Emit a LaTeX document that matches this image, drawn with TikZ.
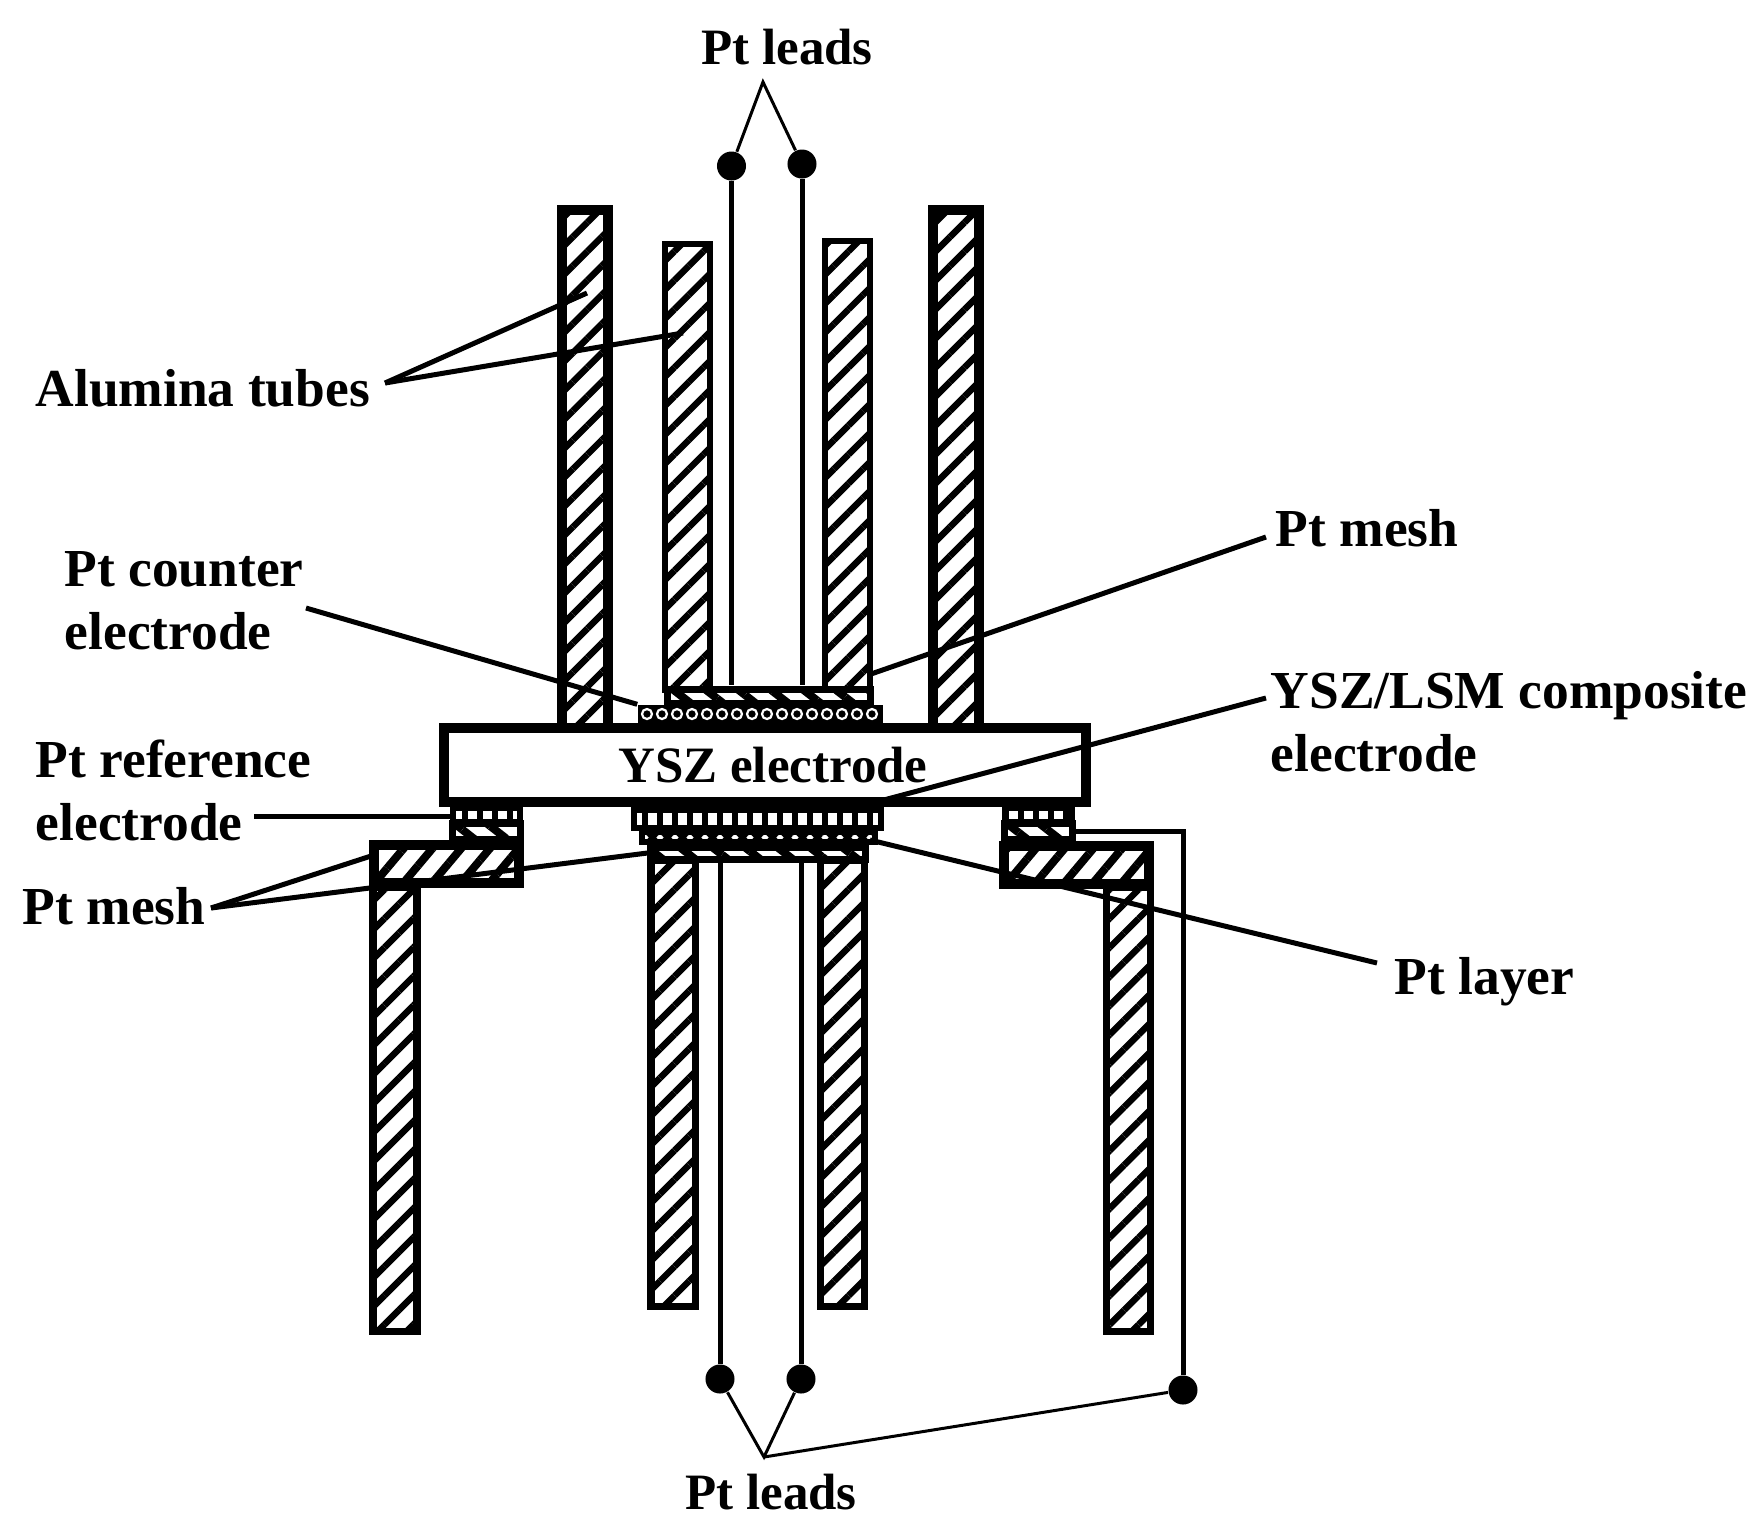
\documentclass[tikz,border=0pt]{standalone}
\usepackage{fontspec}
\setmainfont{Liberation Serif}
\usetikzlibrary{patterns.meta}

\begin{document}
\begin{tikzpicture}[x=0.01cm, y=-0.01cm]
  \tikzstyle{tube}=[draw, inner sep=0, line width=0.07cm, pattern={Lines[angle=45, distance=0.205cm, line width=0.065cm]}]
  \tikzstyle{layer}=[draw, inner sep=0, line width=0.07cm, fill=white]
  \tikzstyle{meshup}=[layer, pattern={Lines[angle=-38, distance=0.2cm, line width=0.08cm]}]
  \tikzstyle{meshdown}=[layer, line width=0.1cm, pattern={Lines[angle=50, distance=0.22cm, line width=0.08cm]}]
  \tikzstyle{gridlayer}=[layer, line width=0.06cm, pattern={Lines[angle=90, distance=0.15cm, line width=0.06cm]}]
  \tikzstyle{crosslayer}=[layer, line width=0.06cm, pattern={Hatch[angle=45, distance=0.106cm, line width=0.05cm]}]
  \tikzstyle{lead}=[line width=0.05cm]
  \tikzstyle{leader}=[line width=0.05cm]
  \tikzstyle{thinleader}=[line width=0.03cm]
  \tikzstyle{joint}=[circle, fill=black, inner sep=0, minimum size=0.29cm]
  \tikzstyle{tag}=[inner sep=0, align=left, font=\fontsize{15.2}{17.9}\selectfont\bfseries]
  \tikzstyle{smalltag}=[inner sep=0, font=\fontsize{14.5}{17.9}\selectfont\bfseries]

  \useasboundingbox (0,0) rectangle (1762,1535);

  % tubes
  \foreach \name/\xc/\yc/\w/\h/\lw in
    { tubeA/585/469/46/518/0.1
    , tubeB/687.5/467/45/446/0.065
    , tubeC/847.5/465.5/45/449/0.06
    , tubeD/956/469/46/518/0.1
    , tubeE/395/1109/44/444/0.07
    , tubeF/673/1083/44/446/0.07
    , tubeG/842/1083/44/446/0.07
    , tubeH/1128.5/1109/44/444/0.07
    }
    \node[tube, line width=\lw cm, minimum width=\w*0.01cm, minimum height=\h*0.01cm] (\name) at (\xc, \yc) {};

  % layers on top of the disc
  \node[fill=black, inner sep=0, minimum width=2.45cm, minimum height=0.18cm] (counter) at (760.5, 714) {};
  \foreach \xc in {647,662,...,876}
    \draw[white, line width=0.022cm] (\xc, 714) circle (5);
  \node[meshup, minimum width=2.02cm, minimum height=0.14cm] (meshtop) at (769, 696) {};

  \node[layer, line width=0.1cm, minimum width=6.415cm, minimum height=0.735cm] (disc) at (765.25, 765.25) {};
  \node[smalltag] (disclabel) at (773, 765) {YSZ electrode};

  % layers below the disc
  \node[gridlayer, minimum width=2.46cm, minimum height=0.18cm] (composite) at (757.5, 819) {};
  \node[crosslayer, minimum width=2.32cm, minimum height=0.1cm] (ptlayer) at (758.5, 837) {};
  \node[meshup, minimum width=2.14cm, minimum height=0.12cm] (meshlow) at (758, 853) {};

  \node[gridlayer, minimum width=0.67cm, minimum height=0.14cm] (gridL) at (486.5, 815) {};
  \node[meshup, minimum width=0.67cm, minimum height=0.16cm] (meshLs) at (486.5, 831) {};
  \node[meshdown, minimum width=1.44cm, minimum height=0.38cm] (meshL) at (446.5, 863.5) {};

  \node[gridlayer, minimum width=0.67cm, minimum height=0.14cm] (gridR) at (1038.5, 815) {};
  \node[meshup, minimum width=0.67cm, minimum height=0.16cm] (meshRs) at (1038.5, 831) {};
  \node[meshdown, minimum width=1.44cm, minimum height=0.38cm] (meshR) at (1076.5, 864.5) {};

  % leads
  \node[joint] (topL) at (731.5, 166) {};
  \node[joint] (topR) at (802, 164) {};
  \node[joint] (botL) at (720, 1379) {};
  \node[joint] (botR) at (801, 1379) {};
  \node[joint] (botX) at (1183, 1390) {};
  \draw[lead] (topL) -- (topL |- meshtop.north);
  \draw[lead] (topR) -- (topR |- meshtop.north);
  \draw[lead] (botL |- meshlow.south) -- (botL);
  \draw[lead] (botR |- meshlow.south) -- (botR);
  \draw[lead] (meshRs.east) -| (botX);

  % labels
  \node[smalltag] (leadstop) at (787, 47) {Pt leads};
  \node[smalltag] (leadsbot) at (771, 1492) {Pt leads};
  \node[tag, anchor=west] (alumina) at (35, 388) {Alumina tubes};
  \node[tag, anchor=west] (counterlabel) at (64, 601) {Pt counter\\electrode};
  \node[tag, anchor=west] (reflabel) at (35, 790) {Pt reference\\electrode};
  \node[tag, anchor=west] (meshleft) at (22, 906) {Pt mesh};
  \node[tag, anchor=west] (meshright) at (1275, 528) {Pt mesh};
  \node[tag, anchor=west] (complabel) at (1270, 722) {YSZ/LSM composite\\electrode};
  \node[tag, anchor=west] (layerlabel) at (1394, 982) {Pt layer};

  \coordinate (apextop) at (763, 82);
  \coordinate (apexbot) at (764, 1457);
  \coordinate (aluminaend) at (385, 383);
  \coordinate (counterend) at (306, 608);
  \coordinate (refend) at (254, 816);
  \coordinate (meshleftend) at (211, 908);
  \coordinate (meshrightend) at (1266, 537);
  \coordinate (compend) at (1266, 698);
  \coordinate (layerend) at (1377, 963);
  \coordinate (meshLend) at (371, 856);

  \draw[thinleader] (topL) -- (apextop) -- (topR);
  \draw[thinleader] (botL) -- (apexbot) -- (botR);
  \draw[thinleader] (apexbot) -- (botX);
  \draw[leader] (aluminaend) -- (587, 293);
  \draw[leader] (aluminaend) -- (683, 333);
  \draw[leader] (counterend) -- (counter.north west);
  \draw[leader] (refend) -- (gridL.west |- refend);
  \draw[leader] (meshleftend) -- (meshLend);
  \draw[leader] (meshleftend) -- (meshlow.west);
  \draw[leader] (meshrightend) -- (871, 674);
  \draw[leader] (compend) -- (865, 805);
  \draw[leader] (layerend) -- (870, 840);
\end{tikzpicture}
\end{document}
